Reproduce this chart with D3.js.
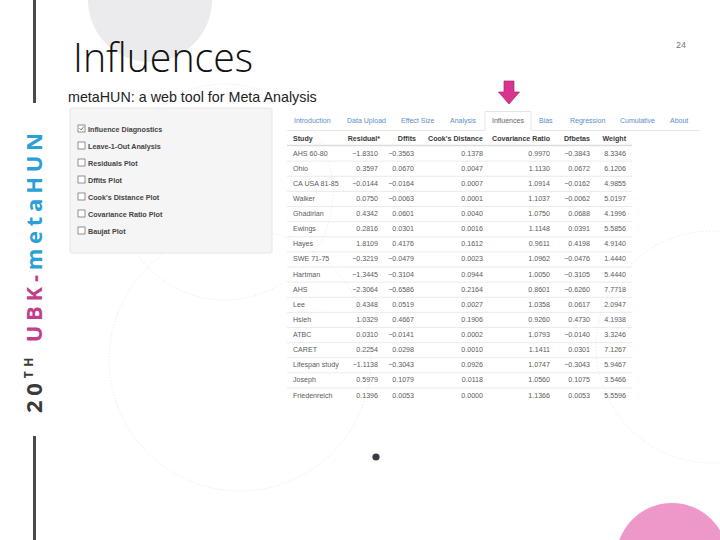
<!DOCTYPE html>
<html><head><meta charset="utf-8">
<script src="https://cdn.jsdelivr.net/npm/d3@7"></script>
<style>html,body{margin:0;padding:0;background:#fff;}svg{display:block;}</style>
</head><body>
<div id="chart"></div>
<script>
// ---------- data ----------
const slideTitle = "Influences";
const pageNumber = "24";
const appTitle = "metaHUN: a web tool for Meta Analysis";
const sideLabelParts = [
  {text: "20", kind: "dark"}, {text: "TH", kind: "sup"},
  {text: " UBK-", kind: "pink"}, {text: "metaHUN", kind: "blue"}
];
const options = ["Influence Diagnostics","Leave-1-Out Analysis","Residuals Plot","Dffits Plot","Cook's Distance Plot","Covariance Ratio Plot","Baujat Plot"];
const optionChecked = [true,false,false,false,false,false,false];
const tabs = ["Introduction","Data Upload","Effect Size","Analysis","Influences","Bias","Regression","Cumulative","About"];
const activeTab = "Influences";
const columns = ["Study","Residual*","Dffits","Cook's Distance","Covariance Ratio","Dfbetas","Weight"];
const studies = ["AHS 60-80","Ohio","CA USA 81-85","Walker","Ghadirian","Ewings","Hayes","SWE 71-75","Hartman","AHS","Lee","Hsieh","ATBC","CARET","Lifespan study","Joseph","Friedenreich"];
const residual = [-1.8310,0.3597,-0.0144,0.0750,0.4342,0.2816,1.8109,-0.3219,-1.3445,-2.3064,0.4348,1.0329,0.0310,0.2254,-1.1138,0.5979,0.1396];
const dffits = [-0.3563,0.0670,-0.0164,-0.0063,0.0601,0.0301,0.4176,-0.0479,-0.3104,-0.6586,0.0519,0.4667,-0.0141,0.0298,-0.3043,0.1079,0.0053];
const cooks = [0.1378,0.0047,0.0007,0.0001,0.0040,0.0016,0.1612,0.0023,0.0944,0.2164,0.0027,0.1906,0.0002,0.0010,0.0926,0.0118,0.0000];
const covRatio = [0.9970,1.1130,1.0914,1.1037,1.0750,1.1148,0.9611,1.0962,1.0050,0.8601,1.0358,0.9260,1.0793,1.1411,1.0747,1.0560,1.1366];
const dfbetas = [-0.3843,0.0672,-0.0162,-0.0062,0.0688,0.0391,0.4198,-0.0476,-0.3105,-0.6260,0.0617,0.4730,-0.0140,0.0301,-0.3043,0.1075,0.0053];
const weight = [8.3346,6.1206,4.9855,5.0197,4.1996,5.5856,4.9140,1.4440,5.4440,7.7718,2.0947,4.1938,3.3246,7.1267,5.9467,3.5466,5.5596];

// ---------- layout ----------
const W = 720, H = 540;
const svg = d3.select("#chart").append("svg").attr("width", W).attr("height", H)
  .style("font-family", "'Liberation Sans', Arial, sans-serif");
const ui = "'Liberation Sans', Arial, sans-serif";

// decorative background shapes
svg.append("circle").attr("cx", 150).attr("cy", 0).attr("r", 62).attr("fill", "#ebebed");
const faint = svg.append("g").attr("fill", "none").attr("stroke", "#dadada")
  .attr("stroke-width", 0.7).attr("stroke-dasharray", "1,2");
faint.append("circle").attr("cx", 240).attr("cy", 360).attr("r", 131);
faint.append("circle").attr("cx", 712).attr("cy", 347).attr("r", 116);
faint.append("circle").attr("cx", 225).attr("cy", 192).attr("r", 108);
svg.append("circle").attr("cx", 672).attr("cy", 559).attr("r", 56).attr("fill", "#ee97c9");
svg.append("circle").attr("cx", 376).attr("cy", 457).attr("r", 3.6).attr("fill", "#3b3b46");

// left bars
svg.append("rect").attr("x", 33).attr("y", 0).attr("width", 3).attr("height", 103).attr("fill", "#4a4a4a");
svg.append("rect").attr("x", 33).attr("y", 436).attr("width", 3).attr("height", 104).attr("fill", "#4a4a4a");

// vertical label
const sideColors = {dark: "#3a3a3a", sup: "#3a3a3a", pink: "#c2408a", blue: "#2aa0d8"};
const side = svg.append("text")
  .attr("transform", "translate(42,413) rotate(-90)")
  .attr("font-family", "'Open Sans', 'DejaVu Sans', sans-serif")
  .attr("font-weight", 700).attr("font-size", 22)
  .attr("textLength", 280).attr("lengthAdjust", "spacing")
  .style("white-space", "pre");
sideLabelParts.forEach((p, i) => {
  const t = side.append("tspan").attr("fill", sideColors[p.kind]).text(p.text);
  if (p.kind === "sup") t.attr("font-size", 12).attr("dy", -9);
  if (i > 0 && sideLabelParts[i - 1].kind === "sup") t.attr("dy", 9);
});

// title & page number
svg.append("text").attr("x", 73).attr("y", 72)
  .attr("font-family", "'Open Sans', Lato, sans-serif").attr("font-weight", 300)
  .attr("font-size", 41).attr("fill", "#111")
  .attr("textLength", 180).attr("lengthAdjust", "spacingAndGlyphs").text(slideTitle);
svg.append("text").attr("x", 686).attr("y", 48).attr("text-anchor", "end")
  .attr("font-family", ui).attr("font-size", 9).attr("fill", "#777").text(pageNumber);

// ---- embedded app screenshot ----
svg.append("text").attr("x", 68).attr("y", 102).attr("font-family", ui)
  .attr("font-size", 14.3).attr("fill", "#222").text(appTitle);

// option panel
svg.append("rect").attr("x", 70).attr("y", 108).attr("width", 202).attr("height", 145)
  .attr("rx", 2).attr("fill", "#f5f5f5").attr("stroke", "#e6e6e6");
const optY = d3.scalePoint().domain(options).range([130, 232]);
const opt = svg.append("g").selectAll("g").data(options).join("g")
  .attr("transform", d => `translate(0,${optY(d)})`);
opt.append("rect").attr("x", 78).attr("y", -5).attr("width", 7).attr("height", 7)
  .attr("fill", "#fff").attr("stroke", "#666").attr("stroke-width", 0.7);
opt.filter((d, i) => optionChecked[i]).append("path")
  .attr("d", "M79.5,-1.8 L81.2,0 L83.8,-3.5").attr("fill", "none")
  .attr("stroke", "#555").attr("stroke-width", 0.8);
opt.append("text").attr("x", 88).attr("y", 1.8).attr("font-size", 7.2)
  .attr("font-weight", 700).attr("fill", "#444").text(d => d);

// nav tabs
const tabX = [294, 347, 401, 450, 492, 539, 570, 620, 670];
svg.append("line").attr("x1", 287).attr("x2", 700).attr("y1", 130.5).attr("y2", 130.5)
  .attr("stroke", "#e2e2e2").attr("stroke-width", 0.8);
const ai = tabs.indexOf(activeTab);
svg.append("path").attr("d", `M${tabX[ai] - 7},130.5 V111.5 H${tabX[ai] + 39} V130.5`)
  .attr("fill", "#fff").attr("stroke", "#e0e0e0").attr("stroke-width", 0.8);
svg.append("line").attr("x1", tabX[ai] - 6.6).attr("x2", tabX[ai] + 38.6).attr("y1", 130.5).attr("y2", 130.5)
  .attr("stroke", "#fff").attr("stroke-width", 1.2);
svg.append("g").selectAll("text").data(tabs).join("text")
  .attr("x", (d, i) => tabX[i]).attr("y", 123).attr("font-size", 7)
  .attr("fill", d => d === activeTab ? "#666" : "#5a8fc8").text(d => d);

// arrow pointing to active tab
svg.append("path").attr("d", "M504,81 H514 V92 H519.5 L509,104 L498.5,92 H504 Z")
  .attr("fill", "#d9358f").attr("stroke", "#a9226c").attr("stroke-width", 0.7);

// table
const rowY = d3.scaleBand().domain(studies).range([145.5, 145.5 + studies.length * 15.125]);
const colRight = {"Residual*": 380, "Dffits": 416, "Cook's Distance": 483, "Covariance Ratio": 550, "Dfbetas": 590, "Weight": 626};
const valRight = {"Residual*": 378, "Dffits": 414, "Cook's Distance": 483, "Covariance Ratio": 550, "Dfbetas": 590, "Weight": 626};
const studyX = 293;
const fmt = d3.format(".4f");
const series = {"Residual*": residual, "Dffits": dffits, "Cook's Distance": cooks, "Covariance Ratio": covRatio, "Dfbetas": dfbetas, "Weight": weight};

const head = svg.append("g").attr("font-size", 7.1).attr("font-weight", 700).attr("fill", "#3a3a3a");
columns.forEach(c => {
  head.append("text").attr("x", c === "Study" ? studyX : colRight[c]).attr("y", 140.5)
    .attr("text-anchor", c === "Study" ? "start" : "end").text(c);
});
svg.append("line").attr("x1", 287).attr("x2", 632).attr("y1", rowY.range()[0]).attr("y2", rowY.range()[0])
  .attr("stroke", "#dcdcdc").attr("stroke-width", 1.5);
svg.append("g").selectAll("line").data(studies.slice(1)).join("line")
  .attr("x1", 287).attr("x2", 632).attr("y1", d => rowY(d) + 0.5).attr("y2", d => rowY(d) + 0.5)
  .attr("stroke", "#e6e6e6").attr("stroke-width", 0.8);

const body = svg.append("g").attr("font-size", 7.1).attr("fill", "#5c5c5c");
studies.forEach((s, i) => {
  const y = rowY(s) + rowY.bandwidth() / 2 + 2.5;
  body.append("text").attr("x", studyX).attr("y", y).text(s);
  Object.keys(series).forEach(c => {
    body.append("text").attr("x", valRight[c]).attr("y", y).attr("text-anchor", "end")
      .text(fmt(series[c][i]));
  });
});
</script>
</body></html>
